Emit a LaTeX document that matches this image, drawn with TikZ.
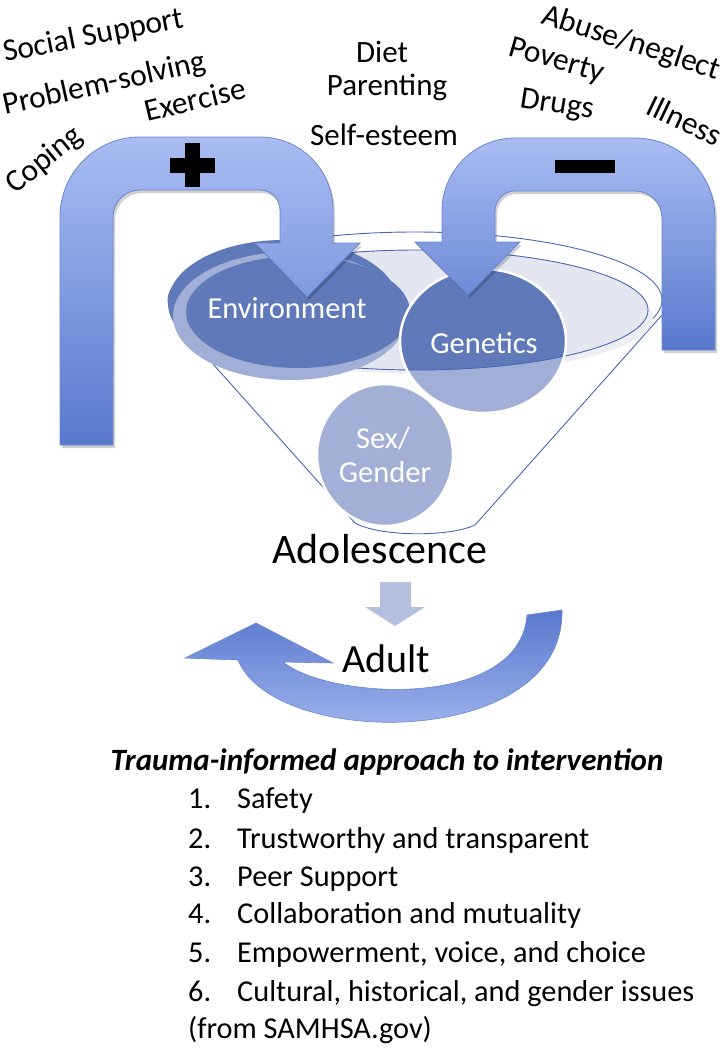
\documentclass[tikz,border=0pt]{standalone}
\usepackage{fontspec}
\setmainfont{Carlito}
\definecolor{rimblue}{HTML}{4A67B5}
\definecolor{envdark}{HTML}{6079B8}
\definecolor{envlight}{HTML}{A1AFD6}
\definecolor{sexcol}{HTML}{A2B0D6}
\definecolor{innergrey}{HTML}{E4E7F0}
\definecolor{greyshadow}{HTML}{EDEFF5}
\definecolor{arrtop}{HTML}{A9BDF2}
\definecolor{arrbot}{HTML}{5A79CD}
\definecolor{arredge}{HTML}{6A86D0}
\definecolor{downarr}{HTML}{B5C0DF}
\tikzset{
  rim/.style={draw=rimblue, line width=0.9pt},
  bigarrow/.style={top color=arrtop, bottom color=arrbot, draw=arredge, line width=0.8pt},
  arrshadow/.style={fill=black, fill opacity=0.18},
  tl/.style={font=\fontsize{31.5}{37}\selectfont, anchor=base west, inner sep=0pt},
  tc/.style={font=\fontsize{31}{37}\selectfont, anchor=base, inner sep=0pt},
  wt/.style={font=\fontsize{30.5}{36}\selectfont, anchor=base, inner sep=0pt, text=white},
  li/.style={font=\fontsize{30.3}{36}\selectfont, anchor=base west, inner sep=0pt},
}
\newcommand{\plusarrowpath}{(60,445) -- (60,217) .. controls (60,172.8) and (95.8,137) .. (140,137)
  -- (260,137) .. controls (300.3,137) and (333,169.7) .. (333,210) -- (333,243) -- (360,243)
  -- (307,297) -- (255,243) -- (280,243) -- (280,210) .. controls (280,199) and (271,190) .. (260,190)
  -- (140,190) .. controls (125.1,190) and (113,202.1) .. (113,217) -- (113,445) -- cycle}
\newcommand{\minusarrowpath}{(715,350) -- (715,218) .. controls (715,173.8) and (679.2,138) .. (635,138)
  -- (515,138) .. controls (474.7,138) and (442,170.7) .. (442,211) -- (442,242) -- (415,242)
  -- (468,295) -- (520,242) -- (495,242) -- (495,211) .. controls (495,200) and (504,191) .. (515,191)
  -- (635,191) .. controls (649.9,191) and (662,203.1) .. (662,218) -- (662,350) -- cycle}
\begin{document}
\begin{tikzpicture}[x=1pt,y=-1pt]
\useasboundingbox (0,0) rectangle (724,1050);

% funnel cone
\fill[white] (180,327) -- (355,523) .. controls (380,537) and (450,537) .. (475,525) -- (662,315) -- cycle;
\draw[rim] (180,327) -- (355,523) .. controls (380,537) and (450,537) .. (475,525) -- (662,315);
% rim of funnel
\filldraw[rim, fill=white] (415,300) ellipse [x radius=247pt, y radius=68pt];
\fill[greyshadow] (425,318) ellipse [x radius=228pt, y radius=56pt];
\filldraw[rim, fill=innergrey] (417,310) ellipse [x radius=231pt, y radius=60pt];

% Environment disc
\fill[envdark] (283,303) ellipse [x radius=115pt, y radius=63pt];
\fill[envlight] (290,316) ellipse [x radius=117pt, y radius=64pt];
\fill[envdark] (298,312) ellipse [x radius=112pt, y radius=56pt];

% Genetics
\fill[envlight] (483,341) ellipse [x radius=83pt, y radius=72pt];
\begin{scope}
  \clip (417,310) ellipse [x radius=231pt, y radius=60pt];
  \fill[envdark] (483,341) ellipse [x radius=83pt, y radius=72pt];
\end{scope}
\begin{scope}
  \clip (483,341) ellipse [x radius=83pt, y radius=72pt];
  \draw[rim] (417,310) ellipse [x radius=231pt, y radius=60pt];
\end{scope}
\draw[white, line width=2.5pt] (483,341) ellipse [x radius=83pt, y radius=72pt];

% Sex/Gender
\filldraw[fill=sexcol, draw=white, line width=2.5pt] (385,455) ellipse [x radius=68pt, y radius=71pt];

% arrow shadows
\begin{scope}[shift={(2,3)}]
  \path[arrshadow] \plusarrowpath;
  \path[arrshadow] \minusarrowpath;
\end{scope}
% plus arrow
\path[bigarrow] \plusarrowpath;
% minus arrow
\path[bigarrow] \minusarrowpath;
% signs
\fill[black] (185,143) rectangle (200,187);
\fill[black] (170,158) rectangle (215,173);
\fill[black] (555,160) rectangle (615,173);

% inner texts
\node[wt] (env) at (287,318) {Environment};
\node[wt] (gen) at (484,353) {Genetics};
\node[wt] (sex) at (383,448) {Sex/};
\node[wt] (gend) at (385,482) {Gender};

% top labels
\node[tl, rotate=11] (ss) at (5,62) {Social Support};
\node[tl, rotate=12.4] (ps) at (5,115) {Problem-solving};
\node[tl, rotate=13.4] (ex) at (147,122) {Exercise};
\node[tl, rotate=39] (cop) at (15,195) {Coping};
\node[tc] (diet) at (382,62) {Diet};
\node[tc] (par) at (387,95) {Parenting};
\node[tc] (se) at (384,145) {Self-esteem};
\node[tl, rotate=-17.7] (ab) at (540,23) {Abuse/neglect};
\node[tl, rotate=-16] (pov) at (507,55) {Poverty};
\node[tl, rotate=-9] (dr) at (519,107) {Drugs};
\node[tl, rotate=-25.6] (ill) at (644,113) {Illness};

% Adolescence & Adult
\node[font=\fontsize{42}{50}\selectfont, anchor=base, inner sep=0pt] (ado) at (380,563) {Adolescence};
\path[fill=downarr] (380,582) -- (411,582) -- (411,607) -- (425,607) -- (395,626) -- (365,607) -- (380,607) -- cycle;
\path[top color=arrbot, bottom color=arrtop, draw=arredge, line width=0.6pt]
  (185,658) -- (256,623) -- (333,663) -- (283,662) .. controls (330,700) and (520,710) .. (527,615)
  -- (562,610) .. controls (565,750) and (275,750) .. (238,660) -- cycle;
\node[font=\fontsize{40}{48}\selectfont, anchor=base, inner sep=0pt] (adult) at (386,672) {Adult};

% bottom text
\node[font=\fontsize{31}{37}\selectfont\bfseries\itshape, anchor=base, inner sep=0pt] (title) at (387,770) {Trauma-informed approach to intervention};
\node[li] (n1) at (188,808) {1.};  \node[li] (t1) at (237,808) {Safety};
\node[li] (n2) at (188,848) {2.};  \node[li] (t2) at (237,848) {Trustworthy and transparent};
\node[li] (n3) at (188,886) {3.};  \node[li] (t3) at (237,886) {Peer Support};
\node[li] (n4) at (188,923) {4.};  \node[li] (t4) at (237,923) {Collaboration and mutuality};
\node[li] (n5) at (188,962) {5.};  \node[li] (t5) at (237,962) {Empowerment, voice, and choice};
\node[li] (n6) at (188,1001) {6.}; \node[li] (t6) at (237,1001) {Cultural, historical, and gender issues};
\node[li] (src) at (188,1038) {(from SAMHSA.gov)};
\end{tikzpicture}
\end{document}
